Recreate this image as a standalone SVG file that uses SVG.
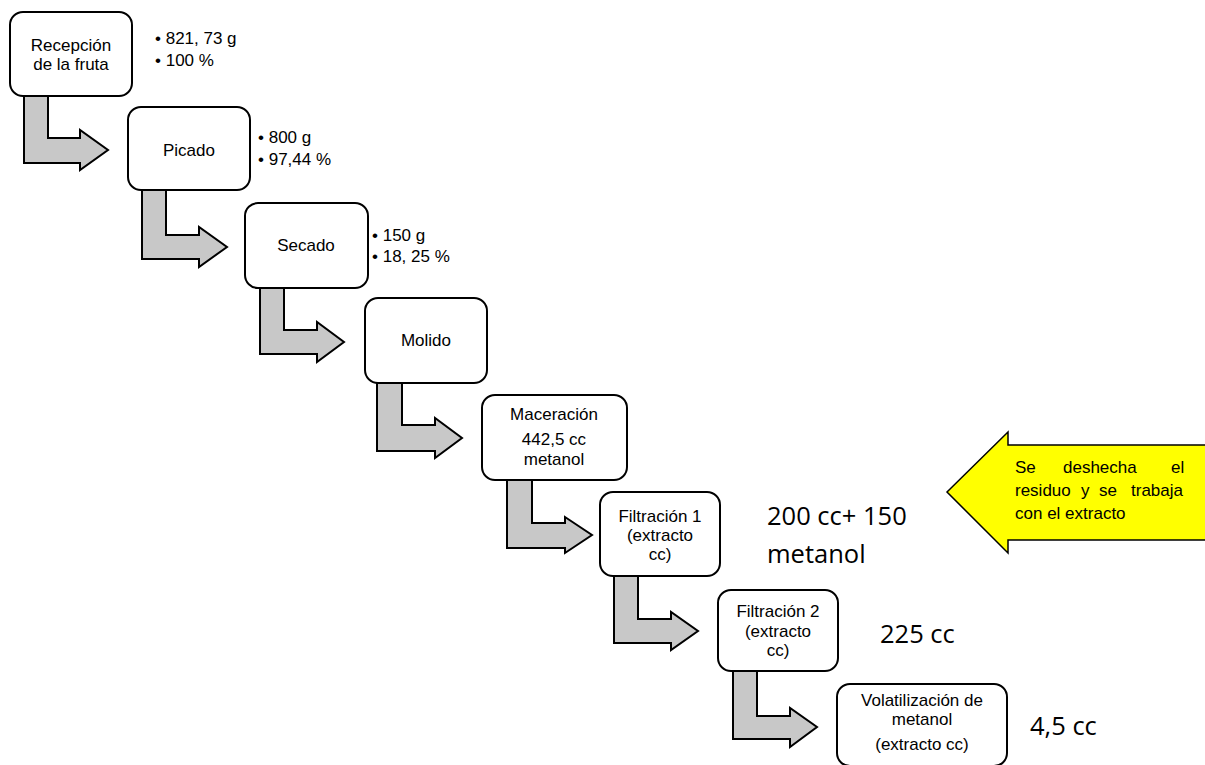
<svg xmlns="http://www.w3.org/2000/svg" width="1205" height="765" viewBox="0 0 1205 765">
<style>
.bx{fill:#fff;stroke:#000;stroke-width:2}
.ar{fill:#c8c8c8;stroke:#000;stroke-width:2;stroke-linejoin:miter}
.t{font-family:"Liberation Sans",Arial,sans-serif;font-size:17px;fill:#000}
.c{text-anchor:middle}
.big{font-family:"Open Sans","Noto Sans",sans-serif;font-size:25.5px;fill:#000}
</style>
<rect width="1205" height="765" fill="#fff"/>
<g id="connectors">
<path class="ar" d="M24,96 H48 V138 H80 V130 L108,150 L80,170 V163 H24 Z"/>
<path class="ar" d="M142,190 H166 V235 H199 V227 L227,247 L199,267 V259 H142 Z"/>
<path class="ar" d="M260,288 H284 V330 H317 V322 L344,342 L317,362 V354 H260 Z"/>
<path class="ar" d="M377,383 H402 V425 H435 V418 L462,438 L435,458 V451 H377 Z"/>
<path class="ar" d="M507,480 H532 V523 H565 V517 L592,535 L565,553 V548 H507 Z"/>
<path class="ar" d="M614,576 H638 V619 H671 V612 L698,631 L671,650 V643 H614 Z"/>
<path class="ar" d="M733,671 H757 V716 H790 V708 L817,727 L790,747 V739 H733 Z"/>
</g>
<g id="recepcion">
<rect class="bx" x="10" y="12" width="122" height="84" rx="13"/>
<text class="t c" x="71" y="51">Recepción</text>
<text class="t c" x="71" y="70">de la fruta</text>
<text class="t" x="155" y="44">• 821, 73 g</text>
<text class="t" x="155" y="66">• 100 %</text>
</g>
<g id="picado">
<rect class="bx" x="128" y="107" width="122" height="83" rx="13"/>
<text class="t c" x="189" y="156">Picado</text>
<text class="t" x="258" y="143">• 800 g</text>
<text class="t" x="258" y="165">• 97,44 %</text>
</g>
<g id="secado">
<rect class="bx" x="245" y="203" width="123" height="85" rx="13"/>
<text class="t c" x="306" y="251">Secado</text>
<text class="t" x="372" y="241">• 150 g</text>
<text class="t" x="372" y="262">• 18, 25 %</text>
</g>
<g id="molido">
<rect class="bx" x="365" y="298" width="122" height="85" rx="13"/>
<text class="t c" x="426" y="346">Molido</text>
</g>
<g id="maceracion">
<rect class="bx" x="482" y="395" width="145" height="85" rx="13"/>
<text class="t c" x="554" y="420">Maceración</text>
<text class="t c" x="554" y="445">442,5 cc</text>
<text class="t c" x="554" y="465">metanol</text>
</g>
<g id="filtracion1">
<rect class="bx" x="600" y="492" width="120" height="84" rx="13"/>
<text class="t c" x="660" y="522">Filtración 1</text>
<text class="t c" x="660" y="541">(extracto</text>
<text class="t c" x="660" y="560">cc)</text>
<text class="big" x="767" y="525">200 cc+ 150</text>
<text class="big" x="767" y="563">metanol</text>
</g>
<g id="filtracion2">
<rect class="bx" x="718" y="590" width="120" height="81" rx="13"/>
<text class="t c" x="778" y="617">Filtración 2</text>
<text class="t c" x="778" y="637">(extracto</text>
<text class="t c" x="778" y="656">cc)</text>
<text class="big" x="880" y="643">225 cc</text>
</g>
<g id="volatilizacion">
<rect class="bx" x="837" y="684" width="170" height="82" rx="13"/>
<text class="t c" x="922" y="706">Volatilización de</text>
<text class="t c" x="922" y="725">metanol</text>
<text class="t c" x="922" y="750">(extracto cc)</text>
<text class="big" x="1030" y="735">4,5 cc</text>
</g>
<g id="residuo">
<path d="M947,492 L1008,432 V445 H1210 V540 H1008 V553 Z" fill="#ffff00" stroke="#000" stroke-width="1.5"/>
<text class="t" y="473"><tspan x="1015">Se</tspan><tspan x="1063">deshecha</tspan><tspan x="1171">el</tspan></text>
<text class="t" y="496"><tspan x="1015">residuo</tspan><tspan x="1081">y</tspan><tspan x="1099">se</tspan><tspan x="1131">trabaja</tspan></text>
<text class="t" x="1015" y="519">con el extracto</text>
</g>
</svg>
